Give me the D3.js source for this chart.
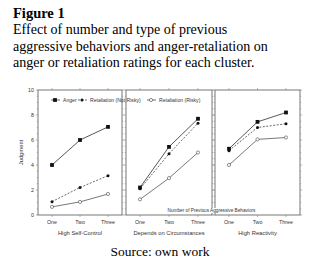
<!DOCTYPE html>
<html><head><meta charset="utf-8">
<script src="https://cdn.jsdelivr.net/npm/d3@7"></script>
<style>body{margin:0;background:#fff}svg{display:block}</style>
</head><body>
<script>
const categories = ["One","Two","Three"];
const clusters = ["High Self-Control","Depends on Circumstances","High Reactivity"];
const anger =     [[4.0,6.0,7.05],[2.2,5.45,7.7],[5.3,7.45,8.2]];
const notRisky =  [[1.07,2.2,3.15],[2.1,4.9,7.35],[5.15,7.0,7.3]];
const risky =     [[0.65,1.05,1.68],[1.25,2.95,5.0],[4.0,6.05,6.2]];
const yTicks = [0,2,4,6,8,10];
const seriesNames = ["Anger","Retaliation (Not Risky)","Retaliation (Risky)"];

(function(){
const W=320,H=265;
const svg=d3.select("body").append("svg").attr("width",W).attr("height",H);
const serif="'Liberation Serif','Times New Roman',serif";
const sans="'Liberation Sans',Arial,sans-serif";

svg.append("text").attr("x",13).attr("y",18).attr("font-family",serif).attr("font-weight","bold").attr("font-size",14.5).text("Figure 1");
const lines=["Effect of number and type of previous","aggressive behaviors and anger-retaliation on","anger or retaliation ratings for each cluster."];
lines.forEach((t,i)=>svg.append("text").attr("x",13).attr("y",34+i*16.5).attr("font-family",serif).attr("font-size",14.05).text(t));

const panels=[[38,122],[126,212],[215,300]];
const pTop=90,pBot=215;
const y=d3.scaleLinear().domain([0,10]).range([pBot,pTop]);

yTicks.forEach(v=>svg.append("text").attr("x",34).attr("y",y(v)+2).attr("text-anchor","end").attr("font-family",sans).attr("font-size",5.3).attr("fill","#333").text(v));
svg.append("text").attr("transform",`translate(23,${(pTop+pBot)/2}) rotate(-90)`).attr("text-anchor","middle").attr("font-family",sans).attr("font-size",5.8).attr("fill","#333").text("Judgment");

panels.forEach((p,k)=>{
  const x=d3.scalePoint().domain(categories).range([p[0]+14,p[1]-14]);
  const g=svg.append("g");
  g.append("rect").attr("x",p[0]).attr("y",pTop).attr("width",p[1]-p[0]).attr("height",pBot-pTop).attr("fill","none").attr("stroke","#555").attr("stroke-width",0.8);
  d3.range(0,10.01,0.5).forEach(v=>{
    const len = Math.abs(v%2)<1e-6?2.2:1.2;
    g.append("line").attr("x1",p[0]).attr("x2",p[0]-len).attr("y1",y(v)).attr("y2",y(v)).attr("stroke","#777").attr("stroke-width",0.5);
    g.append("line").attr("x1",p[1]).attr("x2",p[1]+len).attr("y1",y(v)).attr("y2",y(v)).attr("stroke","#777").attr("stroke-width",0.5);
  });
  categories.forEach(c=>{
    g.append("line").attr("x1",x(c)).attr("x2",x(c)).attr("y1",pBot).attr("y2",pBot+2).attr("stroke","#777").attr("stroke-width",0.5);
    g.append("line").attr("x1",x(c)).attr("x2",x(c)).attr("y1",pTop).attr("y2",pTop-2).attr("stroke","#777").attr("stroke-width",0.5);
    g.append("text").attr("x",x(c)).attr("y",224).attr("text-anchor","middle").attr("font-family",sans).attr("font-size",5.3).attr("fill","#333").text(c);
  });
  g.append("text").attr("x",(p[0]+p[1])/2).attr("y",235).attr("text-anchor","middle").attr("font-family",sans).attr("font-size",5.8).attr("fill","#333").text(clusters[k]);

  const line=d3.line().x((d,i)=>x(categories[i])).y(d=>y(d));
  g.append("path").attr("d",line(risky[k])).attr("fill","none").attr("stroke","#555").attr("stroke-width",0.8);
  g.append("path").attr("d",line(notRisky[k])).attr("fill","none").attr("stroke","#444").attr("stroke-width",0.8).attr("stroke-dasharray","2,1.5");
  g.append("path").attr("d",line(anger[k])).attr("fill","none").attr("stroke","#444").attr("stroke-width",0.9);
  risky[k].forEach((v,i)=>g.append("circle").attr("cx",x(categories[i])).attr("cy",y(v)).attr("r",1.6).attr("fill","#fff").attr("stroke","#444").attr("stroke-width",0.6));
  notRisky[k].forEach((v,i)=>g.append("circle").attr("cx",x(categories[i])).attr("cy",y(v)).attr("r",1.5).attr("fill","#111"));
  anger[k].forEach((v,i)=>g.append("rect").attr("x",x(categories[i])-1.9).attr("y",y(v)-1.9).attr("width",3.8).attr("height",3.8).attr("fill","#111"));
});

const ly=100;
function legItem(x0,type,label){
  const lg=svg.append("g");
  lg.append("line").attr("x1",x0-4).attr("x2",x0+5).attr("y1",ly).attr("y2",ly).attr("stroke","#444").attr("stroke-width",0.8).attr("stroke-dasharray",type===1?"2,1.5":null);
  if(type===0) lg.append("rect").attr("x",x0-1.9).attr("y",ly-1.9).attr("width",3.8).attr("height",3.8).attr("fill","#111");
  else if(type===1) lg.append("circle").attr("cx",x0).attr("cy",ly).attr("r",1.5).attr("fill","#111");
  else lg.append("circle").attr("cx",x0).attr("cy",ly).attr("r",1.6).attr("fill","#fff").attr("stroke","#444").attr("stroke-width",0.6);
  lg.append("text").attr("x",x0+8).attr("y",ly+2).attr("font-family",sans).attr("font-size",5.1).attr("fill","#333").text(label);
}
legItem(55,0,seriesNames[0]);
legItem(82,1,seriesNames[1]);
legItem(151,2,seriesNames[2]);

const bg=svg.append("rect").attr("fill","#fff");
const xl=svg.append("text").attr("x",211.5).attr("y",212).attr("text-anchor","middle").attr("font-family",sans).attr("font-size",4.7).attr("fill","#333").text("Number of Previous Aggressive Behaviors");
const bb=xl.node().getBBox();
bg.attr("x",bb.x-1).attr("y",bb.y).attr("width",bb.width+2).attr("height",bb.height);

svg.append("text").attr("x",160).attr("y",256).attr("text-anchor","middle").attr("font-family",serif).attr("font-size",13.5).text("Source: own work");
})();
</script>
</body></html>
